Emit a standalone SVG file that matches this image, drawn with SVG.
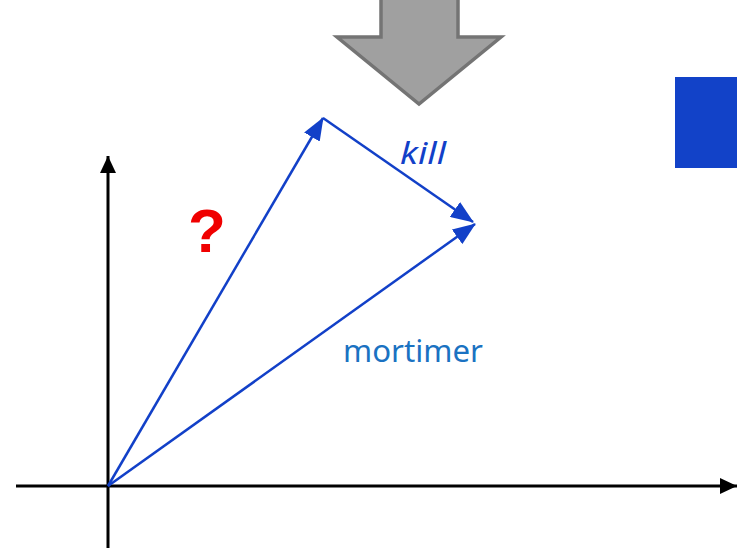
<svg xmlns="http://www.w3.org/2000/svg" width="737" height="548" viewBox="0 0 737 548">
<style>
.axis{stroke:#000;stroke-width:3;fill:none}
.vec{stroke:#1240c8;stroke-width:2.5;fill:none}
.lbl{font-family:"Noto Sans","DejaVu Sans",sans-serif}
</style>
<defs>
<marker id="ah" markerWidth="24" markerHeight="18" refX="22" refY="9" orient="auto" markerUnits="userSpaceOnUse"><path d="M0,0 L23,9 L0,18 Z" fill="#1240c8"/></marker>
<marker id="ak" markerWidth="18" markerHeight="16" refX="17" refY="8" orient="auto" markerUnits="userSpaceOnUse"><path d="M0,0 L17,8 L0,16 Z" fill="#000"/></marker>
</defs>
<g id="bigarrow"><path d="M381,-5 L458,-5 L458,37 L501,37 L419,104 L337,37 L381,37 Z" fill="#a0a0a0" stroke="#747474" stroke-width="3.5" stroke-linejoin="miter"/></g>
<g id="bluebox"><rect x="675" y="77" width="70" height="91" fill="#1242c8"/></g>
<g id="connectors">
<line class="axis" x1="16" y1="486" x2="737" y2="486" marker-end="url(#ak)"/>
<line class="axis" x1="108" y1="548" x2="108" y2="156" marker-end="url(#ak)"/>
<line class="vec" x1="108" y1="486" x2="323" y2="118" marker-end="url(#ah)"/>
<line class="vec" x1="323" y1="118" x2="473" y2="222" marker-end="url(#ah)"/>
<line class="vec" x1="108" y1="486" x2="475" y2="224" marker-end="url(#ah)"/>
</g>
<g id="labels">
<text class="lbl" x="400" y="164" font-size="31" font-style="italic" fill="#1240c8" textLength="46" lengthAdjust="spacingAndGlyphs">kill</text>
<text x="188" y="252" font-family="'Liberation Sans',Arial,sans-serif" font-size="62" font-weight="bold" fill="#f00000">?</text>
<text class="lbl" x="343" y="362" font-size="31" fill="#1a72c2" textLength="140" lengthAdjust="spacingAndGlyphs">mortimer</text>
</g>
</svg>
